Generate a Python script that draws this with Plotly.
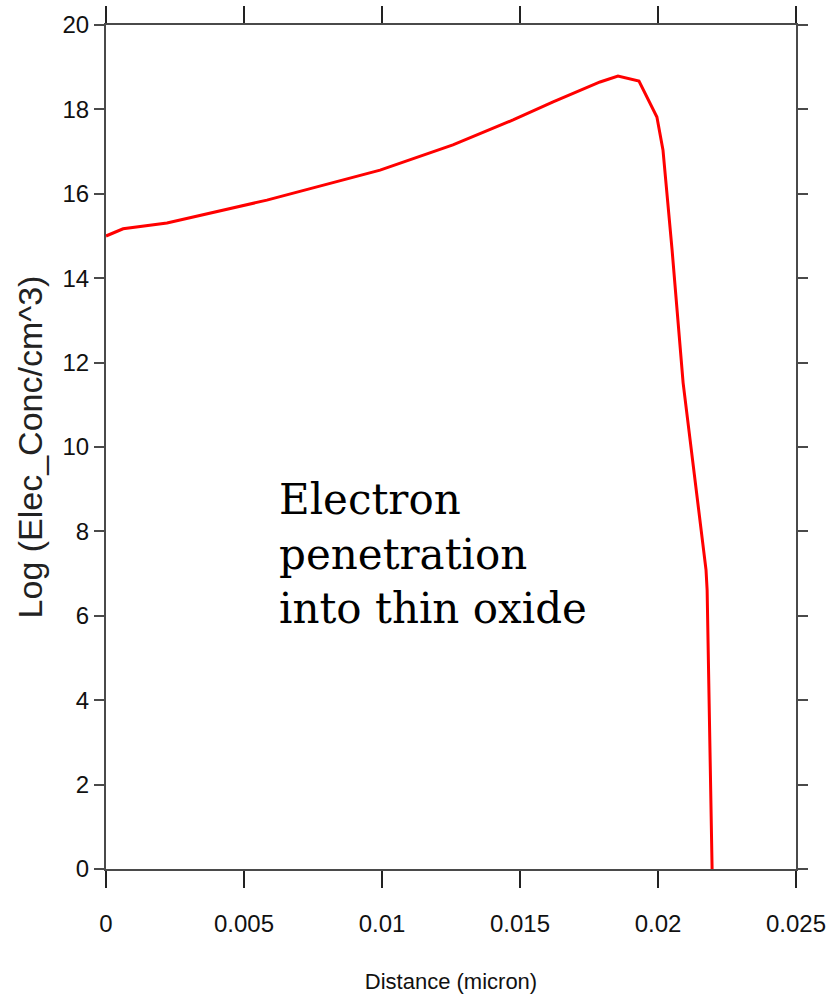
import plotly.graph_objects as go

distance = [0.0, 0.00062, 0.00221, 0.00583, 0.00993, 0.01257, 0.01475, 0.01620,
            0.01790, 0.01855, 0.01931, 0.01996, 0.02018, 0.02051, 0.02091,
            0.02134, 0.02174, 0.02178, 0.02185, 0.02196]
log_conc = [15.00, 15.17, 15.31, 15.85, 16.56, 17.16, 17.75, 18.18,
            18.65, 18.79, 18.67, 17.82, 17.04, 14.67, 11.52,
            9.15, 7.09, 6.61, 4.24, 0.0]

x_ticks = [0, 0.005, 0.01, 0.015, 0.02, 0.025]
x_tick_labels = ["0", "0.005", "0.01", "0.015", "0.02", "0.025"]
y_ticks = [0, 2, 4, 6, 8, 10, 12, 14, 16, 18, 20]

note_text = "Electron<br>penetration<br>into thin oxide"

axis_font = "Liberation Sans, Arial, sans-serif"

fig = go.Figure()
fig.add_trace(go.Scatter(x=distance, y=log_conc, mode="lines",
                         line=dict(color="#ff0000", width=3), showlegend=False))

fig.add_annotation(x=0.0062, y=7.47, xref="x", yref="y", text=note_text,
                   showarrow=False, xanchor="left", yanchor="middle", align="left",
                   font=dict(family="DejaVu Serif, Liberation Serif, serif", size=42, color="#000000"))

fig.update_xaxes(range=[0, 0.025], tickvals=x_ticks, ticktext=x_tick_labels,
                 showline=True, linecolor="#4a4a4a", linewidth=2, mirror="ticks",
                 ticks="outside", ticklen=17, tickwidth=1.5, tickcolor="#222222",
                 showgrid=False, zeroline=False, ticklabelstandoff=15, automargin=False,
                 tickfont=dict(family=axis_font, size=24, color="#111111"),
                 title=dict(text="Distance (micron)", standoff=38,
                            font=dict(family=axis_font, size=22, color="#111111")))
fig.update_yaxes(range=[0, 20], tickvals=y_ticks,
                 showline=True, linecolor="#4a4a4a", linewidth=2, mirror="ticks",
                 ticks="outside", ticklen=10, tickwidth=2, tickcolor="#4a4a4a",
                 showgrid=False, zeroline=False, ticklabelstandoff=0, automargin=False,
                 tickfont=dict(family=axis_font, size=24, color="#111111"),
                 title=dict(text="Log (Elec_Conc/cm^3)", standoff=10,
                            font=dict(family=axis_font, size=34, color="#222222")))

fig.update_layout(width=839, height=1003, plot_bgcolor="white", paper_bgcolor="white",
                  margin=dict(l=106, r=43, t=25, b=134))

fig.write_html("out.html")
